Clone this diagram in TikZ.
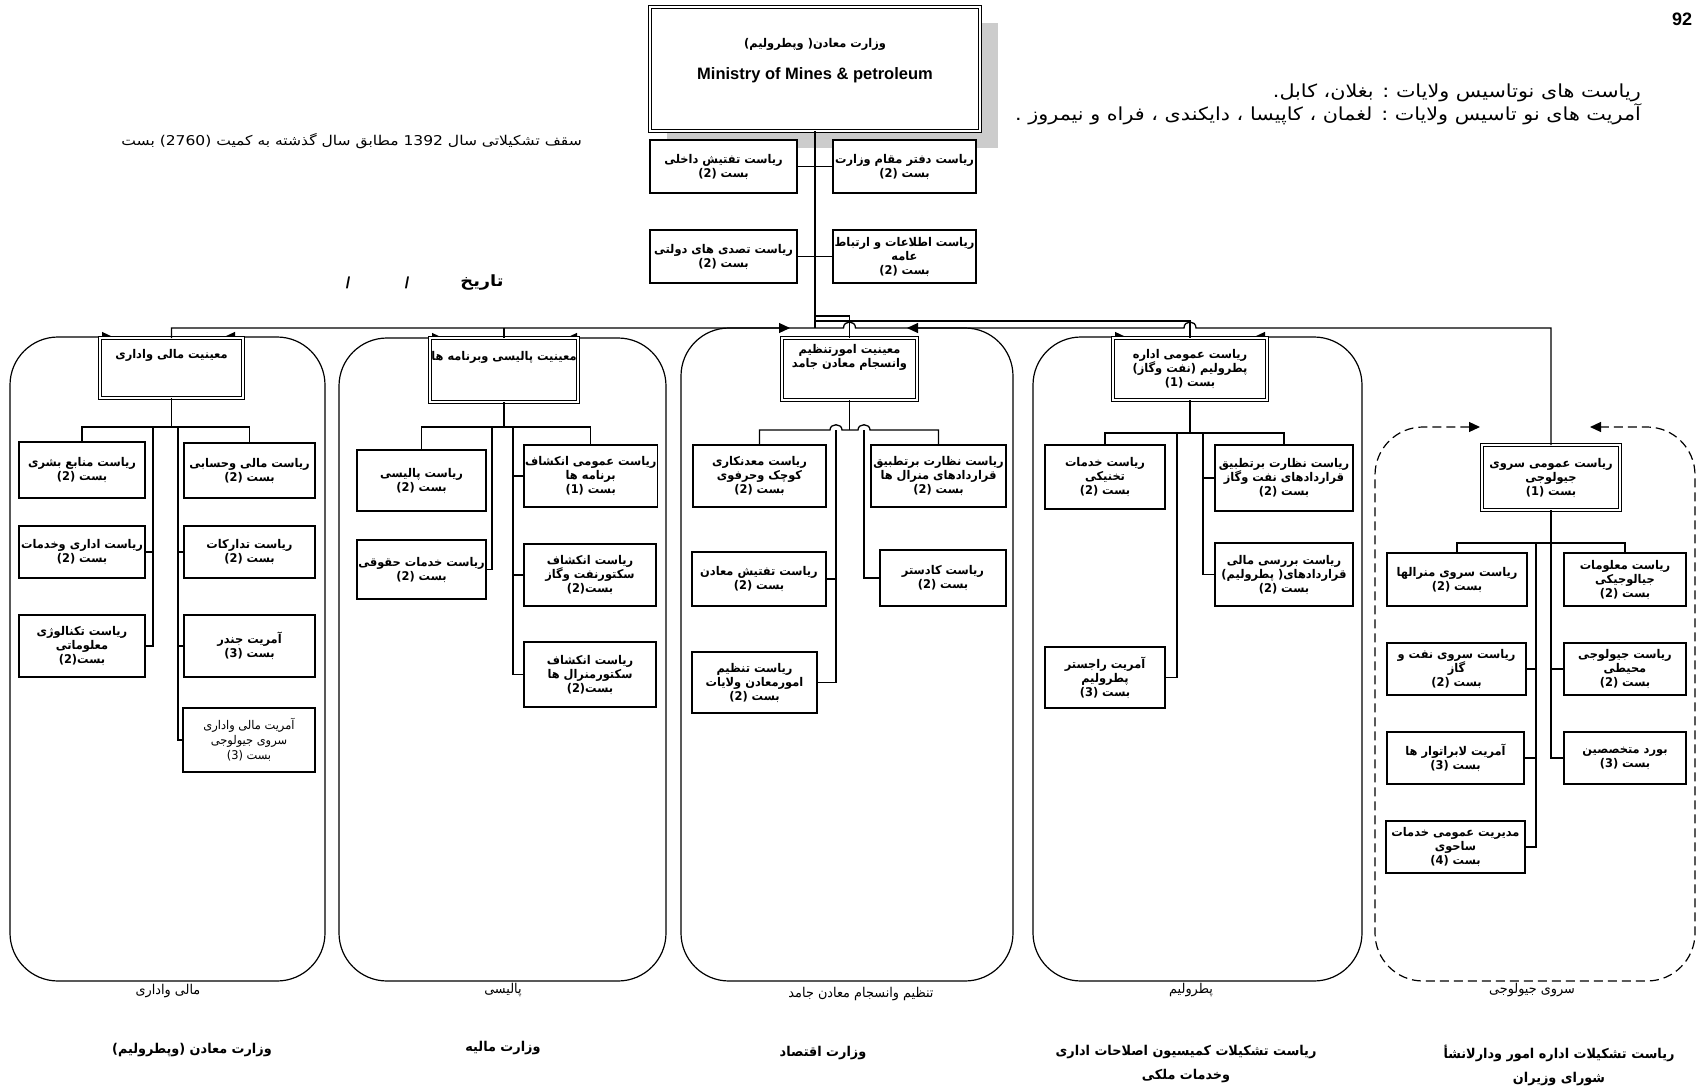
\documentclass[tikz,border=0pt]{standalone}
\usepackage{fontspec}
\setmainfont{Liberation Sans}
\newfontfamily\arfont[Script=Arabic,FakeStretch=0.95]{DejaVu Sans}
\newfontfamily\arwide[Script=Arabic,FakeStretch=1.15]{DejaVu Sans}
\TeXXeTstate=1
\usetikzlibrary{arrows.meta}
\newcommand\AR[1]{\beginR #1\endR}
\newcommand\LL[1]{\beginL #1\endL}
\newcommand\bst[1]{\AR{بست \LL{(#1)}}}
\newcommand\bstt[1]{\AR{بست\LL{(#1)}}}
\newcommand\bxfont{\arfont\bfseries\fontsize{12}{14}\selectfont}
\newcommand\rgfont{\arfont\fontsize{12}{15}\selectfont}
\newcommand\obox[7][]{\node[bx,#1,minimum width={#5-#3},minimum height={#6-#4},anchor=north west] (#2) at (#3,#4) {#7};}
\tikzset{
  bx/.style={draw, line width=1.3pt, fill=white, inner sep=1pt, outer sep=0pt, align=center, font=\bxfont},
  hbx/.style={double, double distance=2.2pt, line width=1pt},
  rbx/.style={font=\rgfont},
  cn/.style={line width=1.3pt},
  grp/.style={line width=1.2pt, rounded corners=48pt, {Triangle[length=11pt,width=10pt]}-{Triangle[length=11pt,width=10pt]}},
  gdash/.style={grp, dash pattern=on 9pt off 5pt},
  lbl/.style={inner sep=0pt, align=center},
  gcap/.style={lbl, font=\arfont\fontsize{13.5}{16}\selectfont},
  sig/.style={lbl, font=\arfont\bfseries\fontsize{13.5}{24}\selectfont},
}
\begin{document}
\begin{tikzpicture}[x=1pt,y=-1pt]
\useasboundingbox[fill=white] (0,0) rectangle (1698,1092);

% ---------- ministry ----------
\fill[gray!40] (667,23) rectangle (998,148);
\obox[hbx]{min}{650}{7}{980}{131}{}
\node[lbl, font=\bxfont] (minA) at (815,44) {\AR{وزارت معادن( وپطرولیم)}};
\node[lbl, font=\bfseries\fontsize{16.5}{18}\selectfont] (minE) at (815,75) {Ministry of Mines \& petroleum};
\obox{s1}{650}{140}{797}{193}{\AR{ریاست تفتیش داخلی}\\\bst{2}}
\obox{s2}{833}{140}{976}{193}{\AR{ریاست دفتر مقام وزارت}\\\bst{2}}
\obox{s3}{650}{230}{797}{283}{\AR{ریاست تصدی های دولتی}\\\bst{2}}
\obox{s4}{833}{230}{976}{283}{\AR{ریاست اطلاعات و ارتباط}\\\AR{عامه}\\\bst{2}}
\coordinate (bus) at (815,328);
\coordinate (j1) at (815,316);
\coordinate (j2) at (815,321);
\draw[cn] (min.south) -- (bus);
\draw[cn] (s1.east) -- (s2.west);
\draw[cn] (s3.east) -- (s4.west);

% ---------- texts at top ----------
\node[lbl, anchor=north east, align=right, font=\arwide\fontsize{18}{20.6}\selectfont] (newprov) at (1641,84)
  {\AR{ریاست های نوتاسیس ولایات :   بغلان،  کابل.}\\\AR{آمریت های  نو تاسیس ولایات : لغمان ، کاپیسا ، دایکندی ، فراه و نیمروز .}};
\node[lbl, anchor=east, font=\arwide\fontsize{13.5}{16}\selectfont] (ceiling) at (582,141)
  {\AR{سقف تشکیلاتی سال \LL{1392} مطابق سال گذشته به کمیت \LL{(2760)} بست}};
\node[lbl, font=\arwide\bfseries\fontsize{15.5}{17}\selectfont] (tarikh) at (482,283) {\AR{تاریخ}};
\node[lbl, font=\bfseries\fontsize{16}{17}\selectfont] (sl1) at (407,283) {/};
\node[lbl, font=\bfseries\fontsize{16}{17}\selectfont] (sl2) at (348,283) {/};
\node[lbl, font=\bfseries\fontsize{18}{20}\selectfont] (page) at (1682,19) {92};

% ---------- group 1: finance ----------
\draw[grp] (113,337) -- (10,337) -- (10,981) -- (325,981) -- (325,337) -- (224,337);
\obox[hbx]{mv}{100}{338}{243}{398}{}
\node[lbl, anchor=north, font=\bxfont] (mvT) at (171.5,349) {\AR{معینیت مالی واداری}};
\obox{mL1}{19}{442}{145}{498}{\AR{ریاست منابع بشری}\\\bst{2}}
\obox{mR1}{184}{443}{315}{498}{\AR{ریاست مالی وحسابی}\\\bst{2}}
\obox{mL2}{19}{526}{145}{578}{\AR{ریاست اداری وخدمات}\\\bst{2}}
\obox{mR2}{184}{526}{315}{578}{\AR{ریاست تدارکات}\\\bst{2}}
\obox{mL3}{19}{615}{145}{677}{\AR{ریاست تکنالوژی}\\\AR{معلوماتی}\\\bstt{2}}
\obox{mR3}{184}{615}{315}{677}{\AR{آمریت جندر}\\\bst{3}}
\obox[rbx]{mR4}{183}{708}{315}{772}{\AR{آمریت مالی واداری}\\\AR{سروی جیولوجی}\\\bst{3}}
\coordinate (mvJ) at (171.5,427);
\coordinate (mvA) at (153,427);
\coordinate (mvB) at (178,427);
\draw[cn] (mv.south) -- (mvJ);
\draw[cn] (mL1.north) |- (mvJ) -| (mR1.north);
\draw[cn] (mvA) |- (mL3.east);
\draw[cn] (mL2.east) -- (mL2.east -| mvA);
\draw[cn] (mvB) |- (mR4.west);
\draw[cn] (mR2.west) -- (mR2.west -| mvB);
\draw[cn] (mR3.west) -- (mR3.west -| mvB);

% ---------- group 2: policy ----------
\draw[grp] (443,338) -- (339,338) -- (339,981) -- (666,981) -- (666,338) -- (566,338);
\obox[hbx]{pv}{430}{338}{578}{402}{}
\node[lbl, anchor=north, font=\bxfont] (pvT) at (504,351) {\AR{معینیت پالیسی وبرنامه ها}};
\obox{pL1}{357}{450}{486}{511}{\AR{ریاست پالیسی}\\\AR{بست  \LL{(2)}}}
\obox{pR1}{524}{445}{655}{507}{\AR{ریاست عمومی انکشاف}\\\AR{برنامه ها}\\\bst{1}}
\obox{pL2}{357}{540}{486}{599}{\AR{ریاست خدمات حقوقی}\\\bst{2}}
\obox{pR2}{524}{544}{656}{606}{\AR{ریاست انکشاف}\\\AR{سکتورنفت وگاز}\\\bstt{2}}
\obox{pR3}{524}{642}{656}{707}{\AR{ریاست انکشاف}\\\AR{سکتورمنرال ها}\\\bstt{2}}
\coordinate (pvJ) at (504,427);
\coordinate (pvA) at (492,427);
\coordinate (pvB) at (513,427);
\draw[cn] (pv.south) -- (pvJ);
\draw[cn] (pL1.north) |- (pvJ) -| (pR1.north);
\draw[cn] (pvA) |- (pL2.east);
\draw[cn] (pvB) |- (pR3.west);
\draw[cn] (pR1.west) -- (pR1.west -| pvB);
\draw[cn] (pR2.west) -- (pR2.west -| pvB);

% ---------- group 3: solid minerals ----------
\draw[grp] (790,328) -- (681,328) -- (681,981) -- (1013,981) -- (1013,328) -- (907,328);
\obox[hbx]{nv}{782}{338}{917}{400}{}
\node[lbl, anchor=north, font=\bxfont] (nvT) at (849.5,344) {\AR{معینیت امورتنظیم}\\\AR{وانسجام معادن جامد}};
\obox{nL1}{693}{445}{826}{507}{\AR{ریاست معدنکاری}\\\AR{کوچک وحرفوی}\\\bst{2}}
\obox{nR1}{871}{445}{1006}{507}{\AR{ریاست نظارت برتطبیق}\\\AR{قراردادهای منرال ها}\\\bst{2}}
\obox{nL2}{692}{552}{826}{606}{\AR{ریاست تفتیش معادن}\\\bst{2}}
\obox{nR2}{880}{550}{1006}{606}{\AR{ریاست کادستر}\\\bst{2}}
\obox{nL3}{692}{652}{817}{713}{\AR{ریاست تنظیم}\\\AR{امورمعادن ولایات}\\\bst{2}}
\coordinate (nvJ) at (849.5,430);
\coordinate (nvA) at (836,430);
\coordinate (nvB) at (864,430);
\draw[cn] (nv.south) -- (nvJ);
\draw[cn] (nL1.north) |- (nL1.north |- nvJ) -- (830,430) .. controls (830,423) and (842,423) .. (842,430)
  -- (858,430) .. controls (858,423) and (870,423) .. (870,430) -| (nR1.north);
\draw[cn] (nvA) |- (nL3.east);
\draw[cn] (nL2.east) -- (nL2.east -| nvA);
\draw[cn] (nvB) |- (nR2.west);

% ---------- group 4: petroleum ----------
\draw[grp] (1126,337) -- (1033,337) -- (1033,981) -- (1362,981) -- (1362,337) -- (1254,337);
\obox[hbx]{tv}{1113}{338}{1267}{400}{\AR{ریاست عمومی اداره}\\\AR{پطرولیم (نفت وگاز)}\\\bst{1}}
\obox{tL1}{1045}{445}{1165}{509}{\AR{ریاست خدمات}\\\AR{تخنیکی}\\\bst{2}}
\obox{tR1}{1215}{445}{1353}{511}{\AR{ریاست نظارت برتطبیق}\\\AR{قراردادهای نفت وگاز}\\\bst{2}}
\obox{tR2}{1215}{543}{1353}{606}{\AR{ریاست بررسی مالی}\\\AR{قراردادهای( پطرولیم)}\\\bst{2}}
\obox{tL2}{1045}{647}{1165}{708}{\AR{آمریت راجستر}\\\AR{پطرولیم}\\\bst{3}}
\coordinate (tvJ) at (1190,433);
\coordinate (tvA) at (1177,433);
\coordinate (tvB) at (1203,433);
\draw[cn] (tv.south) -- (tvJ);
\draw[cn] (tL1.north) |- (tvJ) -| (tR1.north);
\draw[cn] (tvA) |- (tL2.east);
\draw[cn] (tvB) |- (tR2.west);
\draw[cn] (tR1.west) -- (tR1.west -| tvB);

% ---------- group 5: geological survey ----------
\draw[gdash] (1480,427) -- (1375,427) -- (1375,981) -- (1695,981) -- (1695,427) -- (1590,427);
\obox[hbx]{gv}{1482}{445}{1620}{510}{\AR{ریاست عمومی سروی}\\\AR{جیولوجی}\\\bst{1}}
\obox{gL1}{1387}{553}{1527}{606}{\AR{ریاست سروی منرالها}\\\bst{2}}
\obox{gR1}{1564}{553}{1686}{606}{\AR{ریاست معلومات}\\\AR{جیالوجیکی}\\\bst{2}}
\obox{gL2}{1387}{643}{1526}{695}{\AR{ریاست سروی نفت و}\\\AR{گاز}\\\bst{2}}
\obox{gR2}{1564}{643}{1686}{695}{\AR{ریاست جیولوجی}\\\AR{محیطی}\\\bst{2}}
\obox{gL3}{1387}{732}{1524}{784}{\AR{آمریت لابراتوار ها}\\\bst{3}}
\obox{gR3}{1564}{732}{1686}{784}{\AR{بورد متخصصین}\\\bst{3}}
\obox{gL4}{1386}{821}{1525}{873}{\AR{مدیریت عمومی خدمات}\\\AR{ساحوی}\\\bst{4}}
\coordinate (gvJ) at (1551,543);
\coordinate (gvA) at (1536,543);
\draw[cn] (gv.south) -- (gvJ);
\draw[cn] (gL1.north) |- (gvJ) -| (gR1.north);
\draw[cn] (gvA) |- (gL4.east);
\draw[cn] (gL2.east) -- (gL2.east -| gvA);
\draw[cn] (gL3.east) -- (gL3.east -| gvA);
\draw[cn] (gvJ) |- (gR3.west);
\draw[cn] (gR2.west) -- (gR2.west -| gvJ);

% ---------- main bus ----------
\draw[cn] (mv.north) -- (mv.north |- bus) -- (843.5,328) .. controls (843.5,320) and (855.5,320) .. (855.5,328)
  -- (1184,328) .. controls (1184,320) and (1196,320) .. (1196,328) -- (gv.north |- bus) -- (gv.north);
\draw[cn] (pv.north) -- (pv.north |- bus);
\draw[cn] (j1) -| (nv.north);
\draw[cn] (j2) -| (tv.north);

% ---------- group captions ----------
\node[gcap] (c1) at (168,991) {\AR{مالی واداری}};
\node[gcap] (c2) at (503,990) {\AR{پالیسی}};
\node[gcap] (c3) at (861,994) {\AR{تنظیم وانسجام معادن جامد}};
\node[gcap] (c4) at (1191,990) {\AR{پطرولیم}};
\node[gcap] (c5) at (1532,990) {\AR{سروی جیولوجی}};

% ---------- signatures ----------
\node[sig] (sg1) at (192,1050) {\AR{وزارت معادن (وپطرولیم)}};
\node[sig] (sg2) at (503,1048) {\AR{وزارت مالیه}};
\node[sig] (sg3) at (823,1053) {\AR{وزارت اقتصاد}};
\node[sig, anchor=north] (sg4) at (1186,1045) {\AR{ریاست تشکیلات کمیسیون اصلاحات اداری}\\\AR{وخدمات ملکی}};
\node[sig, anchor=north] (sg5) at (1559,1045) {\AR{ریاست تشکیلات اداره امور ودارلانشأ}\\\AR{شورای وزیران}};
\end{tikzpicture}
\end{document}
